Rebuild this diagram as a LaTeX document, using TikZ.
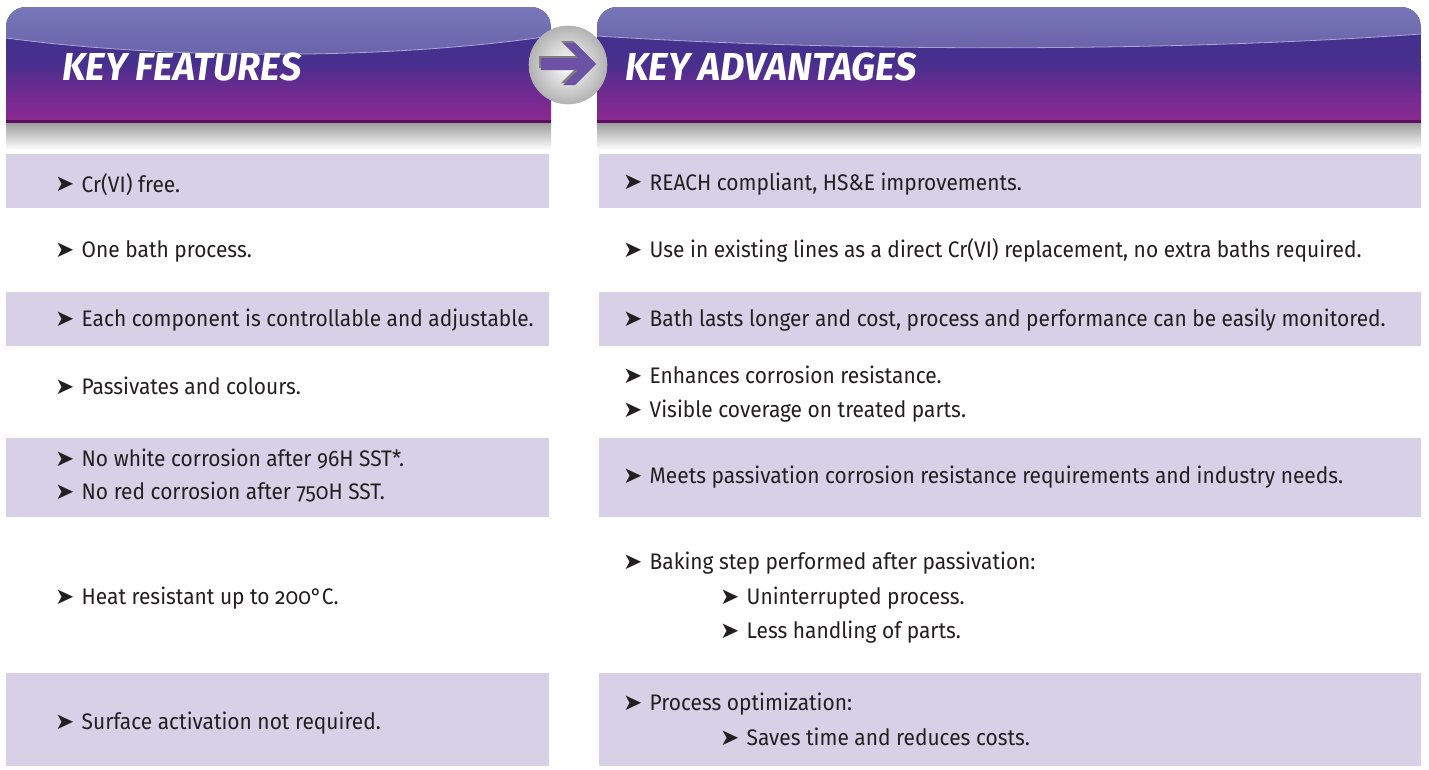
\documentclass[tikz,border=0pt]{standalone}
\usepackage{fontspec}
\setmainfont[Numbers=OldStyle,FakeStretch=0.93]{Fira Sans}
\newfontfamily\titlefont[FakeStretch=0.97]{Fira Sans}
\newfontfamily\symfont{DejaVu Sans}
\definecolor{boxc}{HTML}{D6D1E7}
\definecolor{textc}{HTML}{231F20}
\definecolor{hdrA}{HTML}{7A7ABA}
\definecolor{hdrB}{HTML}{6961A9}
\definecolor{hdrC}{HTML}{45308E}
\definecolor{hdrD}{HTML}{6F2B90}
\definecolor{hdrE}{HTML}{8C2990}
\definecolor{hdrLine}{HTML}{5C0E5E}
\definecolor{glossc}{HTML}{A8A6D6}
\definecolor{arrowc}{HTML}{6C51A5}
\definecolor{arrowsh}{HTML}{7E7E7E}
\newcommand\bl{\makebox[26.5pt][l]{\symfont\fontsize{23}{23}\selectfont\raisebox{0.5pt}{➤}}}
\tikzset{
  txt/.style={anchor=base west, inner sep=0pt, text=textc, font=\fontsize{22.5}{24}\selectfont},
  ttl/.style={anchor=base west, inner sep=0pt, text=white, font=\titlefont\bfseries\itshape\fontsize{39}{40}\selectfont},
  boxfill/.style={fill=boxc}
}
\newcommand\hdrshape[2]{(#1,123) -- (#1,27) arc[start angle=180,end angle=270,radius=20] -- ({#2-20},7) arc[start angle=270,end angle=360,radius=20] -- (#2,123) -- cycle}
\newcommand\header[4]{%
  \begin{scope}
    \clip \hdrshape{#1}{#2};
    \fill[hdrC] (#1,0) rectangle (#2,62);
    \shade[top color=hdrC, bottom color=hdrD] (#1,61.5) rectangle (#2,92);
    \shade[top color=hdrD, bottom color=hdrE] (#1,91.5) rectangle (#2,123);
    \shade[top color=hdrA, bottom color=hdrB] (#1,0) -- (#1,#3) .. controls ({#1+0.3*(#2-#1)},#4) and ({#1+0.7*(#2-#1)},#4) .. (#2,{#3-2}) -- (#2,0) -- cycle;
    \draw[glossc, line width=0.8pt] (#1,#3) .. controls ({#1+0.3*(#2-#1)},#4) and ({#1+0.7*(#2-#1)},#4) .. (#2,{#3-2});
  \end{scope}
  \fill[hdrLine] (#1,120) rectangle (#2,123);
  \shade[top color=black!38, bottom color=white] (#1,123) rectangle (#2,150);
}
\begin{document}
\begin{tikzpicture}[x=1pt,y=-1pt]
\useasboundingbox (0,0) rectangle (1429,769);
\fill[white] (0,0) rectangle (1429,769);
% headers
\header{6}{551}{38}{60}
\header{597}{1421}{36}{52}
\node[ttl] (tl) at (62,80) {KEY FEATURES};
\node[ttl] (tr) at (625,80) {KEY ADVANTAGES};
% circle with arrow
\node[circle, minimum size=78pt, inner sep=0pt, draw=black!30, line width=0.6pt,
      shading=radial, inner color=white, outer color=black!30] (circ) at (568,65) {};
\fill[arrowsh] (539,56) -- (576,56) -- (561,41) -- (573,41) -- (594,62) -- (573,83) -- (561,83) -- (576,68) -- (539,68) -- cycle;
\fill[arrowc] (541,58) -- (578,58) -- (563,43) -- (575,43) -- (596,64) -- (575,85) -- (563,85) -- (578,70) -- (541,70) -- cycle;
% row boxes
\fill[boxfill] (6,154) rectangle (549,208);
\fill[boxfill] (599,154) rectangle (1421,208);
\fill[boxfill] (6,292) rectangle (549,346);
\fill[boxfill] (599,292) rectangle (1421,346);
\fill[boxfill] (6,438) rectangle (549,517);
\fill[boxfill] (599,438) rectangle (1421,517);
\fill[boxfill] (6,673) rectangle (549,766);
\fill[boxfill] (599,673) rectangle (1421,766);
% left column
\node[txt] (l1) at (55,192) {\bl Cr(VI) free.};
\node[txt] (l2) at (55,257.5) {\bl One bath process.};
\node[txt] (l3) at (55,326.5) {\bl Each component is controllable and adjustable.};
\node[txt] (l4) at (55,394.5) {\bl Passivates and colours.};
\node[txt] (l5a) at (55,466.5) {\bl No white corrosion after 96H SST*.};
\node[txt] (l5b) at (55,499.5) {\bl No red corrosion after 750H SST.};
\node[txt] (l6) at (55,604.5) {\bl Heat resistant up to 200°C.};
\node[txt] (l7) at (55,729.5) {\bl Surface activation not required.};
% right column
\node[txt] (r1) at (623,190) {\bl REACH compliant, HS\&E improvements.};
\node[txt] (r2) at (623,257.5) {\bl Use in existing lines as a direct Cr(VI) replacement, no extra baths required.};
\node[txt] (r3) at (623,326.5) {\bl Bath lasts longer and cost, process and performance can be easily monitored.};
\node[txt] (r4a) at (623,383.5) {\bl Enhances corrosion resistance.};
\node[txt] (r4b) at (623,417.5) {\bl Visible coverage on treated parts.};
\node[txt] (r5) at (623,483.5) {\bl Meets passivation corrosion resistance requirements and industry needs.};
\node[txt] (r6a) at (623,569.5) {\bl Baking step performed after passivation:};
\node[txt] (r6b) at (720,604.5) {\bl Uninterrupted process.};
\node[txt] (r6c) at (720,638.5) {\bl Less handling of parts.};
\node[txt] (r7a) at (623,710.5) {\bl Process optimization:};
\node[txt] (r7b) at (720,745.5) {\bl Saves time and reduces costs.};
\end{tikzpicture}
\end{document}
